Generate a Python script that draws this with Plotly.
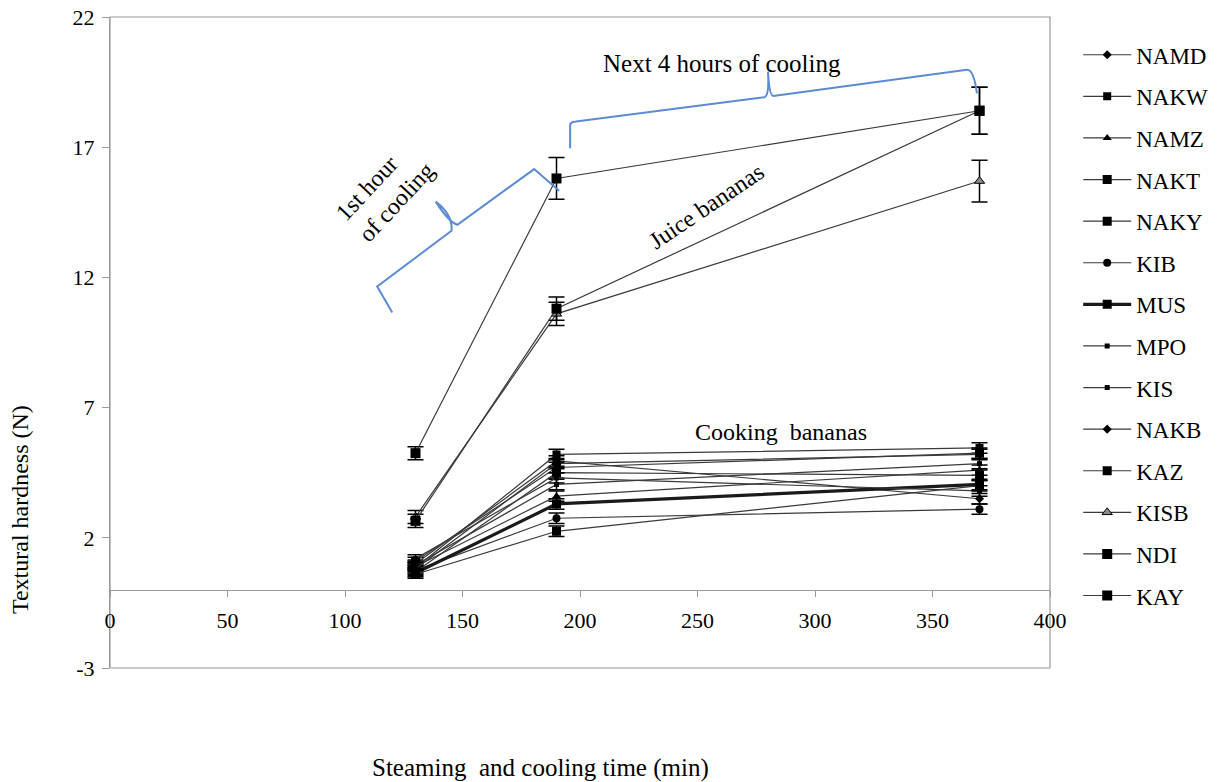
import plotly.graph_objects as go

# ---------------- data ----------------
time_min = [130, 190, 370]

series_names = ["NAMD", "NAKW", "NAMZ", "NAKT", "NAKY", "KIB", "MUS",
                "MPO", "KIS", "NAKB", "KAZ", "KISB", "NDI", "KAY"]

NAMD = [1.00, 4.95, 3.50]
NAKW = [0.85, 5.20, 5.45]
NAMZ = [0.90, 3.60, 4.60]
NAKT = [1.10, 4.70, 5.25]
NAKY = [0.70, 4.50, 4.40]
KIB = [0.75, 2.75, 3.10]
MUS = [0.65, 3.30, 4.05]
MPO = [0.95, 4.05, 4.85]
KIS = [1.20, 4.30, 3.80]
NAKB = [0.80, 4.85, 5.20]
KAZ = [0.60, 2.25, 4.00]
KISB = [2.80, 10.60, 15.70]
NDI = [2.65, 10.80, 18.40]
KAY = [5.25, 15.80, 18.40]

err_cooking = [0.15, 0.20, 0.20]
err_KISB = [0.25, 0.45, 0.80]
err_NDI = [0.25, 0.45, 0.90]
err_KAY = [0.25, 0.80, 0.90]

y_ticks = [-3, 2, 7, 12, 17, 22]
y_tick_labels = ["-3", "2", "7", "12", "17", "22"]
x_ticks = [0, 50, 100, 150, 200, 250, 300, 350, 400]

values = {"NAMD": NAMD, "NAKW": NAKW, "NAMZ": NAMZ, "NAKT": NAKT, "NAKY": NAKY,
          "KIB": KIB, "MUS": MUS, "MPO": MPO, "KIS": KIS, "NAKB": NAKB,
          "KAZ": KAZ, "KISB": KISB, "NDI": NDI, "KAY": KAY}
errors = {"KISB": err_KISB, "NDI": err_NDI, "KAY": err_KAY}

# ---------------- styles ----------------
style = {
    "NAMD": dict(symbol="diamond", size=7, lw=1.2),
    "NAKW": dict(symbol="square", size=8, lw=1.2),
    "NAMZ": dict(symbol="triangle-up", size=8, lw=1.2),
    "NAKT": dict(symbol="square", size=9, lw=1.2),
    "NAKY": dict(symbol="square", size=9, lw=1.2),
    "KIB": dict(symbol="circle", size=8, lw=1.2),
    "MUS": dict(symbol="square", size=9, lw=3.2),
    "MPO": dict(symbol="square", size=5, lw=1.2),
    "KIS": dict(symbol="square", size=5, lw=1.2),
    "NAKB": dict(symbol="diamond", size=7, lw=1.2),
    "KAZ": dict(symbol="square", size=9, lw=1.2),
    "KISB": dict(symbol="triangle-up", size=9, lw=1.2, fill="#8c8c8c"),
    "NDI": dict(symbol="square", size=10, lw=1.2),
    "KAY": dict(symbol="square", size=10, lw=1.2),
}

SERIF = "Liberation Serif, Times New Roman, serif"

fig = go.Figure()
for name in series_names:
    st = style[name]
    fig.add_trace(go.Scatter(
        x=time_min, y=values[name], name=name, mode="lines+markers",
        legendgroup=name,
        line=dict(color="#1a1a1a" if name == "MUS" else "#3a3a3a", width=st["lw"]),
        marker=dict(symbol=st["symbol"], size=st["size"],
                    color=st.get("fill", "black"),
                    line=dict(color="black", width=1 if "fill" in st else 0)),
        error_y=dict(type="data", array=errors.get(name, err_cooking),
                     color="black", thickness=1.5, width=8),
    ))

# ---------------- braces (blue) ----------------
brace_color = "#5B8BD0"
brace1 = ("M120.1,10.65 L113.7,11.65 L145.3,13.79 Q146.0,14.4 138.6,14.91 "
          "M138.6,14.91 Q144.1,14.13 147.8,14.02 L180.5,16.16 L191.1,15.33")
brace2 = ("M195.8,16.96 L195.8,17.86 Q196.2,17.99 198.3,17.99 L278.6,18.92 "
          "Q280.6,19.0 280.0,19.90 M280.0,19.90 Q280.6,18.97 282.2,18.97 "
          "L364.6,19.97 Q367.5,20.0 368.9,19.07")
for p in (brace1, brace2):
    fig.add_shape(type="path", path=p, xref="x", yref="y",
                  line=dict(color=brace_color, width=2))

# plot-area border
fig.add_shape(type="rect", xref="paper", yref="paper", x0=0, y0=0, x1=1, y1=1,
              line=dict(color="#9a9a9a", width=1.2), layer="below")

# ---------------- text annotations ----------------
ann_font = dict(family=SERIF, size=24, color="black")
fig.add_annotation(x=260.6, y=20.2, xref="x", yref="y", text="Next 4 hours of cooling",
                   showarrow=False, font=dict(family=SERIF, size=25, color="black"))
fig.add_annotation(x=117, y=15.3, xref="x", yref="y", text="1st hour<br>of cooling",
                   showarrow=False, font=ann_font, textangle=-47, align="left")
fig.add_annotation(x=254, y=14.75, xref="x", yref="y", text="Juice bananas",
                   showarrow=False, font=ann_font, textangle=-34)
fig.add_annotation(x=285.7, y=6.07, xref="x", yref="y", text="Cooking  bananas",
                   showarrow=False, font=ann_font)

# axis titles as annotations (positioned like the reference)
fig.add_annotation(x=0.4585, y=-0.1536, xref="paper", yref="paper",
                   xanchor="center", yanchor="middle",
                   text="Steaming  and cooling time (min)", showarrow=False,
                   font=dict(family=SERIF, size=25, color="black"))
fig.add_annotation(x=-0.0957, y=0.2427, xref="paper", yref="paper",
                   xanchor="center", yanchor="middle",
                   text="Textural hardness (N)", showarrow=False, textangle=-90,
                   font=dict(family=SERIF, size=24, color="black"))

fig.update_layout(
    width=1225, height=782,
    margin=dict(l=110, r=175, t=17, b=114, autoexpand=False),
    paper_bgcolor="white", plot_bgcolor="white",
    font=dict(family=SERIF, size=22, color="black"),
    showlegend=True,
    legend=dict(x=1.03, y=0.975, xanchor="left", yanchor="top",
                font=dict(family=SERIF, size=23, color="black"),
                tracegroupgap=8.7, itemwidth=48, bgcolor="rgba(0,0,0,0)"),
    xaxis=dict(range=[0, 400], tickvals=x_ticks, showgrid=False, zeroline=False,
               showline=True, linecolor="#9a9a9a", linewidth=1.2,
               ticks="outside", ticklen=6, tickcolor="#9a9a9a",
               anchor="free", position=0.12, automargin=False,
               ticklabelstandoff=5,
               tickfont=dict(family=SERIF, size=22, color="black")),
    yaxis=dict(range=[-3, 22], tickvals=y_ticks, ticktext=y_tick_labels,
               showgrid=False, zeroline=False,
               showline=True, linecolor="#9a9a9a", linewidth=1.2,
               ticks="outside", ticklen=7, tickcolor="#9a9a9a", automargin=False,
               ticklabelstandoff=3,
               tickfont=dict(family=SERIF, size=22, color="black")),
)

fig.write_html("out.html")
